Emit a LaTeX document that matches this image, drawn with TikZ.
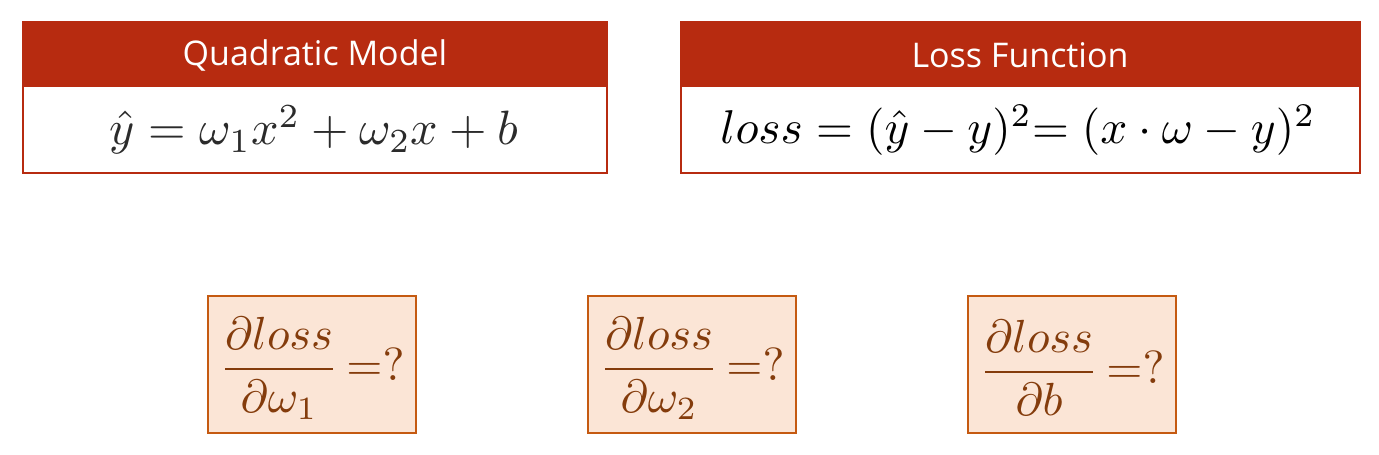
\documentclass[tikz,border=0pt]{standalone}
\usepackage{fontspec}
\setmainfont{Open Sans}
\definecolor{hdr}{HTML}{B72B10}
\definecolor{peach}{HTML}{FBE5D6}
\definecolor{orng}{HTML}{C55A11}
\definecolor{brwn}{HTML}{843C0C}
\definecolor{eqc}{HTML}{2B2B2B}
\tikzset{
  hdrtext/.style={text=white, font=\fontsize{34}{40}\selectfont, inner sep=0pt},
  eqtext/.style={text=eqc, inner sep=0pt},
  qbox/.style={draw=orng, fill=peach, line width=2.2pt},
  qtext/.style={text=brwn, inner sep=0pt},
}
\begin{document}
\begin{tikzpicture}[x=1pt,y=-1pt]
\useasboundingbox (0,0) rectangle (1379,455);
% left box
\fill[hdr] (23,22) rectangle (607,87);
\draw[hdr, line width=2.5pt] (23,22) rectangle (607,173);
\node[hdrtext] (qm) at (315,55) {Quadratic Model};
\node[eqtext] (qeq) at (314,130) {\resizebox{408pt}{!}{$\hat y = \omega_1 x^2 + \omega_2 x + b$}};
% right box
\fill[hdr] (681,22) rectangle (1360,87);
\draw[hdr, line width=2.5pt] (681,22) rectangle (1360,173);
\node[hdrtext] (lf) at (1020,55) {Loss Function};
\node[eqtext, text=black] (leq) at (1018,130) {\resizebox{595pt}{!}{$loss = (\hat y - y)^2{=}\;(x\cdot\omega - y)^2$}};
% bottom boxes
\draw[qbox] (208,296) rectangle (416,433);
\draw[qbox] (588,296) rectangle (796,433);
\draw[qbox] (968,296) rectangle (1176,433);
\node[qtext] (d1) at (312,368) {\resizebox{185pt}{!}{$\displaystyle\frac{\partial loss}{\partial\omega_1}\,{=}?$}};
\node[qtext] (d2) at (692,368) {\resizebox{185pt}{!}{$\displaystyle\frac{\partial loss}{\partial\omega_2}\,{=}?$}};
\node[qtext] (d3) at (1072,368) {\resizebox{185pt}{!}{$\displaystyle\frac{\partial loss}{\partial b}\,{=}?$}};
\end{tikzpicture}
\end{document}
